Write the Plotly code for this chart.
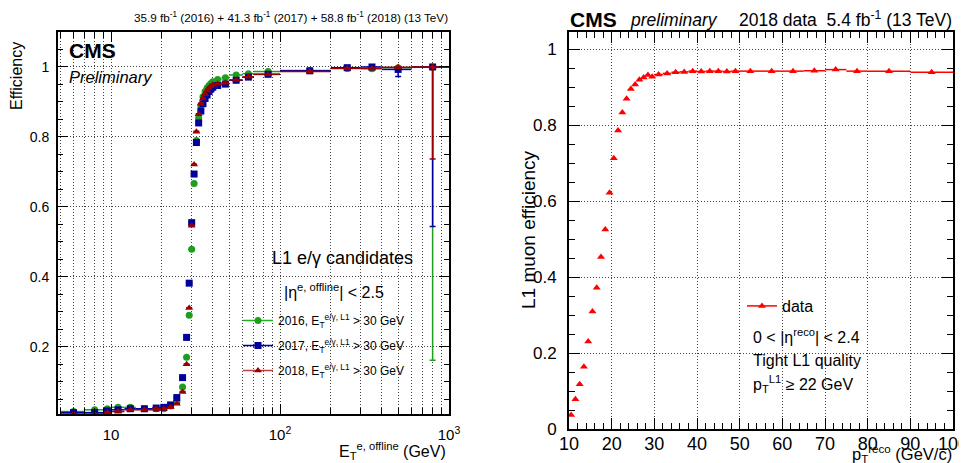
import plotly.graph_objects as go

# ---- left panel: L1 e/gamma turn-on vs offline ET (GeV)
et_edges = [5, 7, 9, 10, 12, 14, 17.5, 19.5, 21.5, 23.5, 25.5, 27.5, 28.5, 29.5, 30.5,
            31.5, 32.5, 33.5, 34.5, 35.5, 36.5, 37.5, 38.5, 39.5, 40.5, 45, 50, 60, 70,
            100, 200, 300, 400, 600, 1000]

eff_2016 = [0.015, 0.020, 0.023, 0.027, 0.027, 0.023, 0.023, 0.023, 0.031, 0.044,
            0.085, 0.170, 0.290, 0.479, 0.667, 0.790, 0.854, 0.890, 0.915, 0.930,
            0.940, 0.947, 0.953, 0.958, 0.964, 0.969, 0.977, 0.981, 0.987, 0.990,
            0.996, 0.995, 0.998, 1.000]
eff_2017 = [0.012, 0.012, 0.017, 0.020, 0.023, 0.023, 0.025, 0.027, 0.034, 0.055,
            0.112, 0.227, 0.382, 0.555, 0.694, 0.784, 0.840, 0.874, 0.895, 0.910,
            0.920, 0.930, 0.937, 0.942, 0.947, 0.951, 0.962, 0.971, 0.979, 0.989,
            0.998, 1.000, 0.993, 1.000]
eff_2018 = [0.008, 0.008, 0.012, 0.015, 0.020, 0.020, 0.022, 0.023, 0.027, 0.037,
            0.071, 0.150, 0.311, 0.546, 0.721, 0.815, 0.865, 0.895, 0.910, 0.922,
            0.932, 0.940, 0.945, 0.949, 0.952, 0.955, 0.963, 0.972, 0.979, 0.987,
            0.996, 0.996, 0.999, 1.000]

# lower / upper stat. errors (only the last bins are visibly large)
err_lo_2016 = [0.001] * 33 + [0.838]
err_lo_2017 = [0.001] * 32 + [0.020, 0.456]
err_lo_2018 = [0.001] * 33 + [0.263]
err_hi_2016 = [0.001] * 33 + [0.0]
err_hi_2017 = [0.001] * 32 + [0.005, 0.0]
err_hi_2018 = [0.001] * 33 + [0.0]

# ---- right panel: L1 muon efficiency vs reco pT (GeV/c)
pt_edges = [10, 11, 12, 13, 14, 15, 16, 17, 18, 19, 20, 21, 22, 23, 24, 25, 26, 27, 28,
            29, 30, 32, 34, 36, 38, 40, 42, 44, 46, 48, 50, 55, 60, 65, 70, 75, 80, 90, 100]
eff_mu = [0.037, 0.078, 0.118, 0.164, 0.230, 0.309, 0.372, 0.453, 0.525, 0.622,
          0.713, 0.786, 0.833, 0.869, 0.895, 0.907, 0.919, 0.925, 0.932, 0.927,
          0.933, 0.936, 0.939, 0.940, 0.942, 0.941, 0.942, 0.942, 0.941, 0.942,
          0.942, 0.942, 0.942, 0.943, 0.946, 0.942, 0.942, 0.939]

W, H = 967, 463
OFF = 8                      # the page body margin shifts the figure by 8px
FW, FH = W - OFF, H - OFF
FONT = "Liberation Sans, Arial, sans-serif"


def px(x):
    return (x - OFF) / FW


def py(y):
    return 1 - (y - OFF) / FH


def centers(edges):
    return [(a + b) / 2 for a, b in zip(edges[:-1], edges[1:])]


et = centers(et_edges)
pt = centers(pt_edges)

fig = go.Figure()

series = [
    ("2016", eff_2016, err_lo_2016, err_hi_2016, "#1e9e1e", "circle"),
    ("2017", eff_2017, err_lo_2017, err_hi_2017, "#00009a", "square"),
    ("2018", eff_2018, err_lo_2018, err_hi_2018, "#9a0000", "triangle-up"),
]
for year, eff, lo, hi, col, sym in series:
    fig.add_trace(go.Scatter(
        x=et, y=eff, mode="markers", showlegend=False,
        marker=dict(color=col, symbol=sym, size=7, line=dict(width=0)),
        error_x=dict(type="data", symmetric=False,
                     array=[b - c for b, c in zip(et_edges[1:], et)],
                     arrayminus=[c - a for a, c in zip(et_edges[:-1], et)],
                     width=0, thickness=1.5, color=col),
        error_y=dict(type="data", symmetric=False, array=hi, arrayminus=lo,
                     width=3, thickness=1.5, color=col),
        xaxis="x", yaxis="y"))

legend_cols = {"2016": "#22b022", "2017": "#0000b0", "2018": "#c04040"}
for year, eff, lo, hi, col, sym in series:
    fig.add_trace(go.Scatter(
        x=[None], y=[None], mode="lines+markers", legend="legend", legendgroup=year,
        name=f"{year}, E<sub>T</sub><sup>e/γ, L1</sup> > 30 GeV",
        line=dict(color=legend_cols[year], width=1.5),
        marker=dict(color=col, symbol=sym, size=7),
        xaxis="x", yaxis="y"))

fig.add_trace(go.Scatter(
    x=pt, y=eff_mu, mode="markers", showlegend=False,
    marker=dict(color="#ff0000", symbol="triangle-up", size=7),
    error_x=dict(type="data", symmetric=False,
                 array=[b - c for b, c in zip(pt_edges[1:], pt)],
                 arrayminus=[c - a for a, c in zip(pt_edges[:-1], pt)],
                 width=0, thickness=1.5, color="#ff0000"),
    xaxis="x2", yaxis="y2"))
fig.add_trace(go.Scatter(
    x=[None], y=[None], mode="lines+markers", name="data", legend="legend2",
    line=dict(color="#ff0000", width=1.5),
    marker=dict(color="#ff0000", symbol="triangle-up", size=7),
    xaxis="x2", yaxis="y2"))

grid = dict(showgrid=True, gridcolor="#444", griddash="1px,2px", gridwidth=1)
frame = dict(showline=True, linecolor="black", linewidth=2, mirror="allticks",
             ticks="inside", tickcolor="black", tickwidth=1, zeroline=False,
             automargin=False, ticklabeloverflow="allow")

minor_et = [5, 6, 7, 8, 9, 20, 30, 40, 50, 60, 70, 80, 90,
            200, 300, 400, 500, 600, 700, 800, 900]

fig.update_layout(
    width=FW, height=FH, margin=dict(l=0, r=0, t=0, b=0),
    paper_bgcolor="white", plot_bgcolor="white",
    font=dict(family=FONT, color="black"),
    xaxis=dict(type="log", domain=[px(58), px(449)], range=[0.686, 3.0],
               tickvals=[10, 100, 1000], ticktext=["10", "10<sup>2</sup>", "10<sup>3</sup>"],
               ticklen=10, tickfont=dict(size=15), ticklabelstandoff=6,
               minor=dict(tickvals=minor_et, ticks="inside", ticklen=6, tickcolor="black",
                          showgrid=True, gridcolor="#444", griddash="1px,2px"),
               anchor="y", **grid, **frame),
    yaxis=dict(domain=[py(414), py(32)], range=[0.008, 1.1],
               tickvals=[0.2, 0.4, 0.6, 0.8, 1.0], ticktext=["0.2", "0.4", "0.6", "0.8", "1"],
               ticklen=10, tickfont=dict(size=14), ticklabelstandoff=4,
               minor=dict(dtick=0.05, tick0=0, ticks="inside", ticklen=5, tickcolor="black"),
               anchor="x", **grid, **frame),
    xaxis2=dict(domain=[px(569), px(953)], range=[10, 100],
                tickvals=list(range(10, 101, 10)), ticklen=11,
                tickfont=dict(size=18), ticklabelstandoff=-3,
                minor=dict(dtick=2, tick0=0, ticks="inside", ticklen=6, tickcolor="black"),
                anchor="y2", **grid, **frame),
    yaxis2=dict(domain=[py(429), py(32)], range=[0, 1.045],
                tickvals=[0, 0.2, 0.4, 0.6, 0.8, 1.0],
                ticktext=["0", "0.2", "0.4", "0.6", "0.8", "1"], ticklen=11,
                tickfont=dict(size=17), ticklabelstandoff=7,
                minor=dict(dtick=0.05, tick0=0, ticks="inside", ticklen=6, tickcolor="black"),
                anchor="x2", **grid, **frame),
    legend=dict(x=px(238), y=py(306), xanchor="left", yanchor="top",
                bgcolor="rgba(0,0,0,0)", font=dict(size=12, family=FONT),
                traceorder="grouped", tracegroupgap=6, itemwidth=30),
    legend2=dict(x=px(742), y=py(289), xanchor="left", yanchor="top",
                 bgcolor="rgba(0,0,0,0)", font=dict(size=16, family=FONT), itemwidth=30),
)

annotations = [
    # left panel
    dict(text="35.9 fb<sup>-1</sup> (2016) + 41.3 fb<sup>-1</sup> (2017) + "
              "58.8 fb<sup>-1</sup> (2018) (13 TeV)",
         x=px(450), y=py(17), xanchor="right", size=11.7),
    dict(text="<b>CMS</b>", x=px(67), y=py(50), xanchor="left", size=21),
    dict(text="<i>Preliminary</i>", x=px(67), y=py(77), xanchor="left", size=16.5),
    dict(text="L1 e/γ candidates", x=px(342), y=py(258), xanchor="center", size=18),
    dict(text="|η<sup>e, offline</sup>| < 2.5", x=px(334), y=py(291), xanchor="center", size=16),
    dict(text="Efficiency", x=px(17), y=py(40), xanchor="center", yanchor="top",
         size=16, textangle=-90),
    dict(text="E<sub>T</sub><sup>e, offline</sup> (GeV)", x=px(448), y=py(451),
         xanchor="right", size=16),
    # right panel
    dict(text="<b>CMS</b>", x=px(568), y=py(19), xanchor="left", size=21),
    dict(text="<i>preliminary</i>", x=px(628), y=py(20), xanchor="left", size=17.5),
    dict(text="2018 data  5.4 fb<sup>-1</sup> (13 TeV)", x=px(954), y=py(19),
         xanchor="right", size=17.5),
    dict(text="0 < |η<sup>reco</sup>| < 2.4", x=px(751), y=py(336), xanchor="left", size=16),
    dict(text="Tight L1 quality", x=px(751), y=py(360), xanchor="left", size=16),
    dict(text="p<sub>T</sub><sup>L1</sup> ≥ 22 GeV", x=px(751), y=py(384), xanchor="left", size=16),
    dict(text="L1 muon efficiency", x=px(528), y=py(230), xanchor="center", yanchor="middle",
         size=19, textangle=-90),
    dict(text="p<sub>T</sub><sup>reco</sup> (GeV/c)", x=px(954), y=py(454), xanchor="right", size=16.5),
]
for a in annotations:
    size = a.pop("size")
    fig.add_annotation(xref="paper", yref="paper", showarrow=False,
                       yanchor=a.pop("yanchor", "middle"),
                       font=dict(size=size, family=FONT, color="black"), **a)

fig.write_html("out.html")
